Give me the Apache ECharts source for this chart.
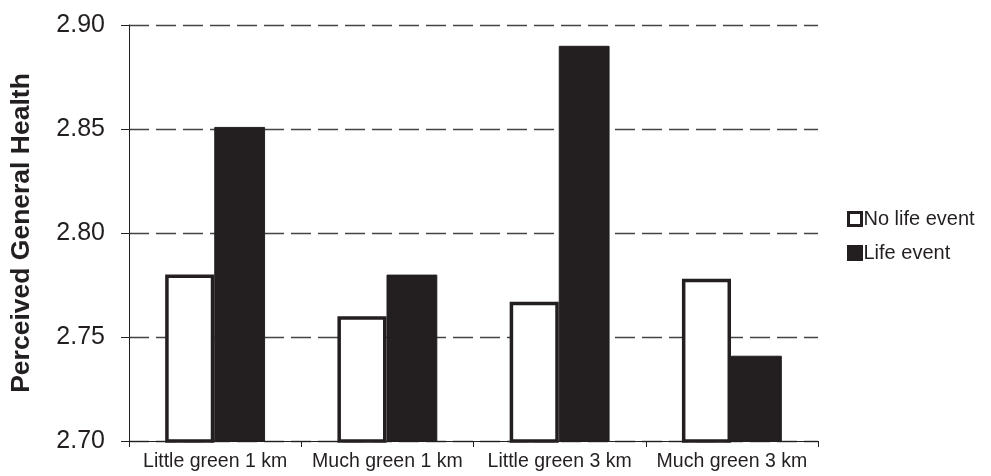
<!DOCTYPE html>
<html>
<head>
<meta charset="utf-8">
<script src="https://cdn.jsdelivr.net/npm/echarts@6/dist/echarts.min.js"></script>
<style>html,body{margin:0;padding:0;background:#fff;}#c{width:991px;height:476px;}</style>
</head>
<body>
<div id="c"></div>
<script>
const categories = ['Little green 1 km', 'Much green 1 km', 'Little green 3 km', 'Much green 3 km'];
const noLifeEvent = [2.780, 2.760, 2.767, 2.778];
const lifeEvent = [2.851, 2.780, 2.890, 2.741];
const seriesNames = ['No life event', 'Life event'];
const yTicks = { min: 2.70, max: 2.90, interval: 0.05 };

const chart = echarts.init(document.getElementById('c'));
const font = 'Liberation Sans, Arial, sans-serif';
chart.setOption({
  animation: false,
  backgroundColor: '#fff',
  grid: { left: 128, right: 173, top: 25, bottom: 35 },
  legend: {
    orient: 'vertical',
    left: 842, top: 204,
    itemWidth: 13, itemHeight: 13, itemGap: 14,
    icon: 'rect',
    itemStyle: { borderWidth: 3, borderColor: '#231f20' },
    textStyle: { fontFamily: font, fontSize: 20, color: '#231f20', padding: [0,0,0,-3] },
    data: seriesNames
  },
  xAxis: {
    type: 'category',
    data: categories,
    axisLine: { lineStyle: { color: '#231f20', width: 1 } },
    axisTick: { show: true, length: 6, inside: false, lineStyle: { color: '#231f20' } },
    axisLabel: { fontFamily: font, fontSize: 19.5, color: '#231f20', margin: 11, interval: 0 }
  },
  yAxis: {
    type: 'value',
    min: yTicks.min, max: yTicks.max, interval: yTicks.interval,
    name: 'Perceived General Health',
    nameLocation: 'middle',
    nameGap: 94,
    nameTextStyle: { fontFamily: font, fontSize: 26.5, fontWeight: 'bold', color: '#231f20' },
    axisLine: { show: true, lineStyle: { color: '#231f20', width: 1 } },
    axisTick: { show: true, length: 8, lineStyle: { color: '#231f20' } },
    axisLabel: { fontFamily: font, fontSize: 25, color: '#231f20', margin: 24, formatter: v => v.toFixed(2) },
    splitLine: { show: true, lineStyle: { color: '#444', width: 1.3, type: [20, 7] } }
  },
  series: [
    {
      name: seriesNames[0], type: 'bar', data: noLifeEvent,
      barWidth: '28.5%', barGap: '0%',
      itemStyle: { color: '#fff', borderColor: '#231f20', borderWidth: 3.5 }
    },
    {
      name: seriesNames[1], type: 'bar', data: lifeEvent,
      barWidth: '29.5%', barGap: '0%',
      itemStyle: { color: '#231f20', borderColor: '#231f20', borderWidth: 1 }
    }
  ]
});
</script>
</body>
</html>
